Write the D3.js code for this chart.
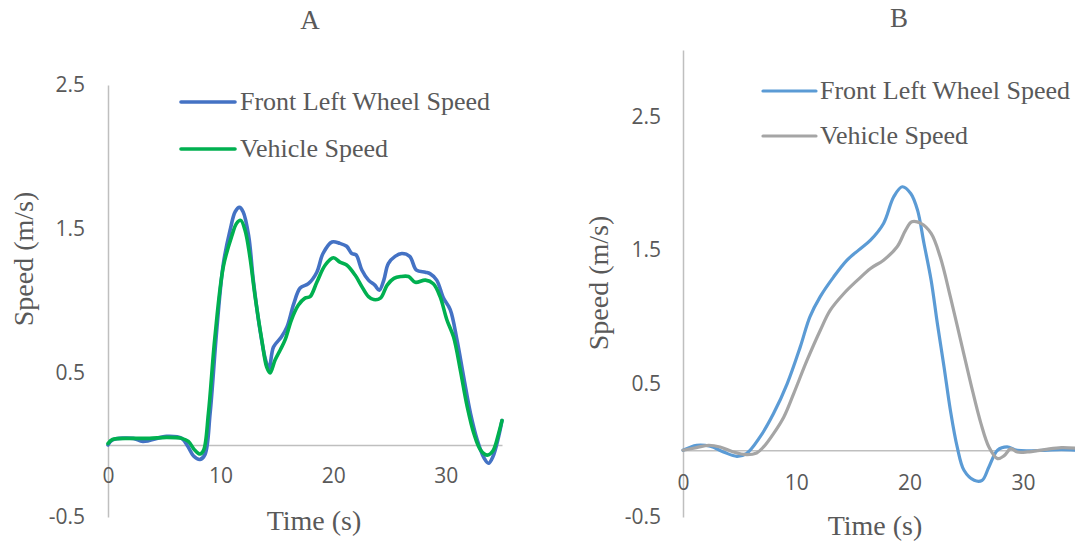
<!DOCTYPE html>
<html>
<head>
<meta charset="utf-8">
<script src="https://cdn.jsdelivr.net/npm/d3@7"></script>
<style>
  html, body { margin: 0; padding: 0; background: #fff; }
  svg { display: block; }
  .tick text { font-family: "Open Sans", sans-serif; font-size: 21px; fill: #595959; }
  .serif { font-family: "Liberation Serif", "DejaVu Serif", serif; fill: #595959; }
</style>
</head>
<body>
<svg id="chart" width="1075" height="541"></svg>
<script>
// ---------------- Data ----------------
const panelTitles = ["A", "B"];
const seriesNames = ["Front Left Wheel Speed", "Vehicle Speed"];
const yTickValues = [-0.5, 0.5, 1.5, 2.5];
const xTickValues = [0, 10, 20, 30];

// Panel A
const aWheelT = [0,0.4,2.25,3.1,5.2,6.55,7.1,7.6,8.18,8.62,9.07,9.66,10.25,10.84,11.3,11.67,12.0,12.5,12.9,13.5,14.0,14.3,14.7,15.4,15.9,16.5,17.07,17.8,18.55,19.1,19.9,20.6,21.2,21.66,22.04,22.55,23.14,23.7,24.1,24.5,24.9,25.5,26.1,26.8,27.4,28.2,28.6,29.2,29.8,30.4,31.0,31.6,32.2,32.8,33.4,33.8,34.2,34.7,35.0];
const aWheelV = [0,0.035,0.046,0.025,0.06,0.046,-0.01,-0.076,-0.1,-0.065,0.22,0.8,1.26,1.49,1.62,1.65,1.62,1.45,1.15,0.80,0.59,0.53,0.68,0.75,0.82,0.98,1.09,1.12,1.2,1.33,1.41,1.40,1.38,1.33,1.32,1.215,1.145,1.11,1.075,1.145,1.26,1.31,1.33,1.31,1.215,1.20,1.19,1.145,1.02,0.94,0.73,0.47,0.22,0.035,-0.09,-0.127,-0.08,0.058,0.17];
const aVehT = [0,0.4,2.25,3.7,5.2,6.55,7.14,7.7,8.18,8.5,8.92,9.5,10.25,10.99,11.43,11.79,12.18,12.6,13.07,13.66,14.1,14.4,14.84,15.3,15.73,16.3,16.9,17.5,17.95,18.55,19.3,20.03,20.6,21.2,21.95,22.55,23.14,23.6,24.2,24.8,25.4,26.0,26.7,27.3,28.2,28.9,29.5,30.1,30.7,31.3,31.9,32.5,33.1,33.7,34.2,34.7,35.0];
const aVehV = [0.01,0.038,0.046,0.046,0.053,0.046,0.025,-0.035,-0.063,-0.035,0.22,0.75,1.24,1.45,1.54,1.56,1.49,1.31,1.03,0.73,0.54,0.50,0.59,0.66,0.73,0.87,0.97,1.02,1.03,1.13,1.25,1.30,1.27,1.25,1.18,1.10,1.03,1.01,1.02,1.11,1.157,1.17,1.17,1.13,1.145,1.12,1.03,0.87,0.75,0.52,0.27,0.08,-0.035,-0.07,-0.04,0.08,0.17];

// Panel B
const bWheelT = [0,1.2,2.4,3.57,4.75,5.6,6.8,7.99,9.2,10.35,11.2,12.1,13.3,14.48,15.5,16.55,17.7,18.6,19.35,20.1,20.7,21.27,21.9,22.45,23.04,23.6,24.2,24.8,25.7,26.4,27.0,27.76,28.6,29.5,31.9,33.4,35.0];
const bWheelV = [0,0.0375,0.03,-0.012,-0.045,-0.025,0.1,0.275,0.5,0.775,1.0,1.15,1.3,1.425,1.5,1.575,1.7,1.9,1.975,1.925,1.8,1.55,1.275,0.95,0.625,0.3,0.025,-0.15,-0.225,-0.225,-0.125,0,0.025,0,0,0.005,0];
const bVehT = [0,1.2,2.25,3.27,4.45,5.6,6.5,7.11,7.99,8.9,9.77,10.95,12.12,13.0,14.2,15.4,16.55,17.7,18.9,19.65,20.2,21.0,21.9,22.7,23.6,24.5,25.4,26.3,27.0,27.76,28.35,28.94,29.5,30.4,31.9,33.4,35.0];
const bVehV = [0,0.02,0.0375,0.025,-0.0125,-0.0325,-0.02,0.025,0.125,0.25,0.425,0.675,0.9,1.05,1.175,1.275,1.363,1.425,1.525,1.65,1.713,1.7,1.625,1.45,1.15,0.825,0.5,0.2,0.025,-0.0625,-0.04,0.0125,-0.0125,-0.0125,0.005,0.02,0.0125];

// ---------------- Drawing ----------------
const svg = d3.select("#chart");
const zip = (t, v) => t.map((d, i) => [d, v[i]]);

const panels = [
  {
    title: panelTitles[0], titlePos: [310, 20],
    xDomain: [0, 35], xRange: [108, 502],
    yDomain: [-0.5, 2.5], yRange: [517, 85],
    series: [zip(aWheelT, aWheelV), zip(aVehT, aVehV)],
    colors: ["#4472C4", "#00B050"],
    lw: 3.6,
    yPad: 23, xPad: 23,
    yTitle: [25, 259], xTitle: [314, 522],
    legend: { x1: 181, x2: 235, tx: 240, ys: [102, 149] }
  },
  {
    title: panelTitles[1], titlePos: [899, 18],
    xDomain: [0, 35], xRange: [683, 683 + 35 * 11.33],
    yDomain: [-0.5, 3.0], yRange: [517, 50],
    series: [zip(bWheelT, bWheelV), zip(bVehT, bVehV)],
    colors: ["#5B9BD5", "#A5A5A5"],
    lw: 3.2,
    yPad: 22, xPad: 25,
    yTitle: [600, 283], xTitle: [875, 527],
    legend: { x1: 763, x2: 816, tx: 820, ys: [91, 136] }
  }
];

panels.forEach(p => {
  const x = d3.scaleLinear().domain(p.xDomain).range(p.xRange);
  const y = d3.scaleLinear().domain(p.yDomain).range(p.yRange);
  const g = svg.append("g");

  // Y axis
  const ya = g.append("g")
    .attr("transform", `translate(${x(0)},0)`)
    .call(d3.axisLeft(y).tickValues(yTickValues).tickSize(0).tickSizeOuter(0)
      .tickPadding(p.yPad).tickFormat(d => d < 0 ? "-" + Math.abs(d).toFixed(1) : d.toFixed(1)));
  ya.select(".domain").attr("stroke", "#BFBFBF").attr("stroke-width", 1.5);

  // X axis at zero
  const xa = g.append("g")
    .attr("transform", `translate(0,${y(0)})`)
    .call(d3.axisBottom(x).tickValues(xTickValues).tickSize(0).tickSizeOuter(0)
      .tickPadding(p.xPad).tickFormat(d3.format("d")));
  xa.select(".domain").attr("stroke", "#BFBFBF").attr("stroke-width", 1.5);

  // Lines
  const line = d3.line().x(d => x(d[0])).y(d => y(d[1])).curve(d3.curveCatmullRom.alpha(0.5));
  p.series.forEach((s, i) => {
    g.append("path").datum(s)
      .attr("d", line)
      .attr("fill", "none")
      .attr("stroke", p.colors[i])
      .attr("stroke-width", p.lw)
      .attr("stroke-linejoin", "round")
      .attr("stroke-linecap", "round");
  });

  // Legend
  seriesNames.forEach((name, i) => {
    const ly = p.legend.ys[i];
    g.append("line")
      .attr("x1", p.legend.x1).attr("x2", p.legend.x2)
      .attr("y1", ly).attr("y2", ly)
      .attr("stroke", p.colors[i]).attr("stroke-width", p.lw)
      .attr("stroke-linecap", "round");
    g.append("text").attr("class", "serif")
      .attr("x", p.legend.tx).attr("y", ly + 8)
      .attr("font-size", 26)
      .text(name);
  });

  // Titles
  g.append("text").attr("class", "serif")
    .attr("x", p.titlePos[0]).attr("y", p.titlePos[1])
    .attr("dy", "0.35em").attr("text-anchor", "middle")
    .attr("font-size", 27).text(p.title);

  g.append("text").attr("class", "serif")
    .attr("transform", `translate(${p.yTitle[0]},${p.yTitle[1]}) rotate(-90)`)
    .attr("dy", "0.3em").attr("text-anchor", "middle")
    .attr("font-size", 28).text("Speed (m/s)");

  g.append("text").attr("class", "serif")
    .attr("x", p.xTitle[0]).attr("y", p.xTitle[1])
    .attr("dy", "0.3em").attr("text-anchor", "middle")
    .attr("font-size", 28).text("Time (s)");
});
</script>
</body>
</html>
